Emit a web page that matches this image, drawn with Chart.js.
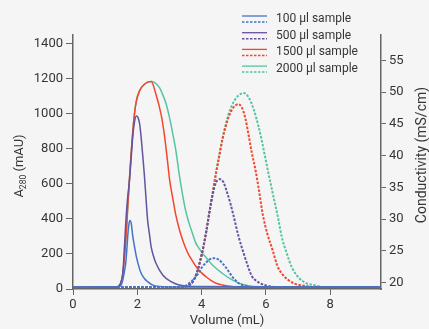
<!DOCTYPE html>
<html><head><meta charset="utf-8">
<script src="https://cdn.jsdelivr.net/npm/chart.js@4/dist/chart.umd.min.js"></script>
<style>html,body{margin:0;padding:0;background:#f5f5f5;}canvas{display:block;}</style>
</head><body>
<canvas id="c" width="429" height="329"></canvas>
<script>
const FONT = 'Roboto, "Liberation Sans", sans-serif';
const seriesLabels = ['100 µl sample', '500 µl sample', '1500 µl sample', '2000 µl sample'];
const xTicks = [0, 2, 4, 6, 8];
const a280Ticks = [0, 200, 400, 600, 800, 1000, 1200, 1400];
const condTicks = [20, 25, 30, 35, 40, 45, 50, 55];

// A280 (mAU) — solid lines
const a280Vol100 = [0, 1.40, 1.50, 1.55, 1.60, 1.64, 1.68, 1.71, 1.74, 1.77, 1.81, 1.86, 1.92, 1.97, 2.07, 2.12, 2.22, 2.32, 2.48, 2.70, 3.20, 9.6];
const a280Val100 = [10, 11, 23, 52, 100, 147, 240, 320, 370, 391, 376, 300, 235, 185, 115, 90, 60, 42, 22, 14, 11, 10];
const a280Vol500 = [0, 1.35, 1.45, 1.50, 1.55, 1.60, 1.66, 1.71, 1.76, 1.81, 1.86, 1.91, 1.97, 2.02, 2.07, 2.12, 2.17, 2.22, 2.27, 2.32, 2.38, 2.43, 2.50, 2.58, 2.79, 3.05, 3.30, 3.70, 9.6];
const a280Val500 = [10, 11, 23, 45, 90, 242, 434, 540, 625, 749, 873, 950, 987, 980, 945, 864, 760, 650, 520, 395, 310, 242, 190, 147, 80, 42, 23, 14, 10];
const a280Vol1500 = [0, 1.40, 1.50, 1.55, 1.60, 1.66, 1.71, 1.76, 1.81, 1.86, 1.91, 1.97, 2.07, 2.22, 2.43, 2.58, 2.74, 2.84, 2.94, 3.00, 3.10, 3.20, 3.30, 3.40, 3.50, 3.60, 3.70, 3.80, 3.90, 4.00, 4.14, 4.30, 4.45, 4.60, 4.76, 5.20, 9.6];
const a280Val1500 = [10, 12, 40, 90, 180, 330, 491, 640, 778, 900, 997, 1073, 1131, 1169, 1184, 1112, 997, 883, 730, 630, 520, 420, 345, 285, 235, 195, 165, 135, 112, 92, 70, 48, 33, 25, 19, 12, 10];
const a280Vol2000 = [0, 1.40, 1.50, 1.55, 1.60, 1.66, 1.71, 1.76, 1.81, 1.86, 1.91, 1.97, 2.07, 2.22, 2.43, 2.53, 2.69, 2.79, 2.89, 3.00, 3.10, 3.20, 3.30, 3.40, 3.50, 3.61, 3.72, 3.82, 3.93, 4.02, 4.14, 4.33, 4.64, 4.95, 5.26, 5.46, 5.80, 6.50, 9.6];
const a280Val2000 = [10, 12, 40, 90, 180, 330, 491, 640, 778, 900, 997, 1073, 1131, 1169, 1184, 1180, 1150, 1110, 1060, 980, 890, 790, 660, 548, 450, 376, 315, 262, 230, 205, 180, 138, 90, 52, 27, 19, 13, 11, 10];

// Conductivity (mS/cm) — dashed lines
const condVol100 = [0, 3.30, 3.50, 3.61, 3.72, 3.82, 3.93, 4.02, 4.13, 4.23, 4.38, 4.54, 4.64, 4.74, 4.85, 4.95, 5.05, 5.15, 5.36, 5.60, 9.6];
const condVal100 = [19.3, 19.3, 19.5, 19.9, 20.4, 20.95, 21.7, 22.5, 23.1, 23.6, 23.85, 23.6, 23.1, 22.5, 21.7, 20.95, 20.4, 19.9, 19.5, 19.3, 19.3];
const condVol500 = [0, 3.40, 3.60, 3.72, 3.85, 3.95, 4.05, 4.15, 4.25, 4.35, 4.45, 4.58, 4.68, 4.80, 4.90, 5.00, 5.15, 5.31, 5.46, 5.56, 5.67, 5.82, 5.98, 6.30, 9.6];
const condVal500 = [19.3, 19.3, 19.6, 20.1, 21.5, 23.3, 25.5, 28.2, 31.3, 34.0, 35.8, 36.3, 35.8, 34.1, 32.4, 30.4, 27.25, 24.6, 22.3, 21.05, 20.4, 19.9, 19.6, 19.3, 19.3];
const condVol1500 = [0, 3.40, 3.60, 3.72, 3.85, 3.95, 4.05, 4.15, 4.25, 4.35, 4.45, 4.55, 4.65, 4.75, 4.85, 4.95, 5.05, 5.13, 5.26, 5.36, 5.46, 5.56, 5.67, 5.77, 5.90, 6.05, 6.21, 6.36, 6.50, 6.70, 6.91, 7.21, 7.50, 9.6];
const condVal1500 = [19.3, 19.3, 19.6, 20.1, 21.5, 23.3, 25.5, 28.2, 31.3, 34.3, 37.3, 40.0, 42.6, 44.6, 46.2, 47.3, 47.9, 48.1, 47.5, 45.9, 43.3, 40.5, 37.9, 35.0, 30.8, 27.6, 25.1, 22.6, 21.4, 20.4, 19.8, 19.5, 19.3, 19.3];
const condVol2000 = [0, 3.40, 3.60, 3.72, 3.85, 3.95, 4.05, 4.15, 4.25, 4.35, 4.45, 4.55, 4.65, 4.75, 4.85, 4.95, 5.05, 5.15, 5.31, 5.46, 5.62, 5.77, 5.88, 5.98, 6.08, 6.19, 6.29, 6.39, 6.49, 6.65, 6.80, 7.00, 7.26, 7.52, 7.80, 9.6];
const condVal2000 = [19.3, 19.3, 19.6, 20.1, 21.5, 23.3, 25.5, 28.2, 31.3, 34.3, 37.3, 40.0, 42.7, 44.9, 46.7, 48.0, 48.9, 49.5, 49.86, 49.2, 47.3, 44.6, 42.2, 39.7, 37.2, 34.6, 32.3, 29.9, 27.3, 24.6, 22.5, 20.9, 19.9, 19.6, 19.3, 19.3];

const colors = ['#4473c8', '#66529f', '#f2472b', '#55c4a1'];

function pts(xs, ys) { return xs.map((x, i) => ({ x: x, y: ys[i] })); }
function solid(label, xs, ys, c) {
  return { label: label + ' A280', data: pts(xs, ys), yAxisID: 'y', borderColor: c, borderWidth: 1.5, pointRadius: 0, cubicInterpolationMode: 'monotone', fill: false };
}
function dashed(label, xs, ys, c) {
  return { label: label + ' conductivity', data: pts(xs, ys), yAxisID: 'y1', borderColor: c, borderWidth: 2, borderDash: [2.5, 1.5], pointRadius: 0, cubicInterpolationMode: 'monotone', fill: false };
}

const datasets = [
  dashed(seriesLabels[0], condVol100, condVal100, colors[0]),
  solid(seriesLabels[0], a280Vol100, a280Val100, colors[0]),
  solid(seriesLabels[1], a280Vol500, a280Val500, colors[1]),
  dashed(seriesLabels[1], condVol500, condVal500, colors[1]),
  solid(seriesLabels[2], a280Vol1500, a280Val1500, colors[2]),
  dashed(seriesLabels[2], condVol1500, condVal1500, colors[2]),
  solid(seriesLabels[3], a280Vol2000, a280Val2000, colors[3]),
  dashed(seriesLabels[3], condVol2000, condVal2000, colors[3])
];

const AXIS = '#666666';
const TXT = '#363636';

const pairLegend = {
  id: 'pairLegend',
  afterDraw(chart) {
    const ctx = chart.ctx;
    ctx.save();
    ctx.font = '12px ' + FONT;
    ctx.textBaseline = 'middle';
    ctx.textAlign = 'left';
    seriesLabels.forEach((lab, i) => {
      const y = 19 + i * 16.7;
      ctx.strokeStyle = colors[i];
      ctx.lineWidth = 1.3;
      ctx.setLineDash([]);
      ctx.beginPath(); ctx.moveTo(242, y - 3); ctx.lineTo(267, y - 3); ctx.stroke();
      ctx.lineWidth = 1.5;
      ctx.setLineDash([2.5, 1.5]);
      ctx.beginPath(); ctx.moveTo(242, y + 3); ctx.lineTo(267, y + 3); ctx.stroke();
      ctx.fillStyle = TXT;
      ctx.fillText(lab, 276, y);
    });
    ctx.restore();
  }
};

const axisTitles = {
  id: 'axisTitles',
  afterDraw(chart) {
    const ctx = chart.ctx;
    ctx.save();
    ctx.fillStyle = TXT;
    ctx.textBaseline = 'middle';
    const big = '13px ' + FONT, small = '8.5px ' + FONT;
    ctx.font = big; const wA = ctx.measureText('A').width; const wR = ctx.measureText(' (mAU)').width;
    ctx.font = small; const wS = ctx.measureText('280').width;
    const total = wA + wS + wR;
    ctx.translate(20, 166);
    ctx.rotate(-Math.PI / 2);
    ctx.textAlign = 'left';
    let x0 = -total / 2;
    ctx.font = big; ctx.fillText('A', x0, 0); x0 += wA;
    ctx.font = small; ctx.fillText('280', x0, 3.5); x0 += wS;
    ctx.font = big; ctx.fillText(' (mAU)', x0, 0);
    ctx.restore();
    ctx.save();
    ctx.fillStyle = TXT;
    ctx.textBaseline = 'middle';
    ctx.textAlign = 'center';
    ctx.font = '14px ' + FONT;
    ctx.translate(422, 155);
    ctx.rotate(-Math.PI / 2);
    ctx.fillText('Conductivity (mS/cm)', 0, 0);
    ctx.restore();
  }
};

function setTicks(list) { return function (s) { s.ticks = list.map(v => ({ value: v })); }; }
const plainLabel = v => String(v);

new Chart(document.getElementById('c'), {
  type: 'line',
  data: { datasets: datasets },
  plugins: [pairLegend, axisTitles],
  options: {
    responsive: false,
    animation: false,
    devicePixelRatio: 1,
    layout: { padding: { top: 35, left: 0, right: 0, bottom: 0 } },
    plugins: { legend: { display: false }, tooltip: { enabled: false } },
    elements: { line: { borderJoinStyle: 'round' } },
    scales: {
      x: {
        type: 'linear', position: 'bottom', min: 0, max: 9.58,
        afterBuildTicks: setTicks(xTicks),
        afterFit(s) { s.height = 40; },
        ticks: { color: TXT, font: { family: FONT, size: 13 }, padding: 2, maxRotation: 0, callback: plainLabel },
        grid: { drawOnChartArea: false, drawTicks: true, tickLength: 6, color: AXIS, tickWidth: 1 },
        border: { display: true, color: AXIS, width: 1.5 },
        title: { display: true, text: 'Volume (mL)', color: TXT, font: { family: FONT, size: 13 }, padding: { top: 0, bottom: 0 } }
      },
      y: {
        type: 'linear', position: 'left', min: 0, max: 1450,
        afterBuildTicks: setTicks(a280Ticks),
        afterFit(s) { s.width = 73; },
        ticks: { color: TXT, font: { family: FONT, size: 13 }, padding: 3, callback: plainLabel },
        grid: { drawOnChartArea: false, drawTicks: true, tickLength: 7, color: AXIS, tickWidth: 1 },
        border: { display: true, color: AXIS, width: 1.5 }
      },
      y1: {
        type: 'linear', position: 'right', min: 19, max: 59,
        afterBuildTicks: setTicks(condTicks),
        afterFit(s) { s.width = 48; },
        ticks: { color: TXT, font: { family: FONT, size: 13 }, padding: 3, callback: plainLabel },
        grid: { drawOnChartArea: false, drawTicks: true, tickLength: 5, color: AXIS, tickWidth: 1 },
        border: { display: true, color: AXIS, width: 1.5 }
      }
    }
  }
});
</script>
</body></html>
